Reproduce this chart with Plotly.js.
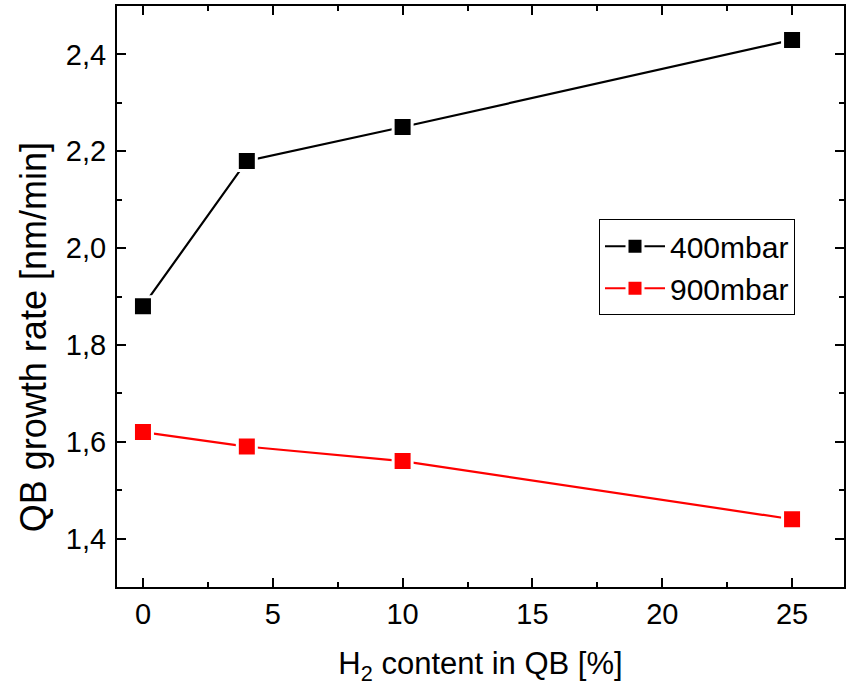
<!DOCTYPE html>
<html>
<head>
<meta charset="utf-8">
<script src="https://cdn.plot.ly/plotly-3.0.1.min.js"></script>
<style>
html,body{margin:0;padding:0;background:#fff;}
#chart{width:848px;height:692px;}
</style>
</head>
<body>
<div id="chart"></div>
<script>
// Data
const h2Content = [0, 4, 10, 25];
const rate400mbar = [1.88, 2.18, 2.25, 2.43];
const rate900mbar = [1.62, 1.59, 1.56, 1.44];
const seriesNames = ['400mbar', '900mbar'];
const xTitle = 'H<sub>2</sub> content in QB [%]';
const yTitle = 'QB growth rate [nm/min]';

const FONT = 'Arial, "Liberation Sans", sans-serif';

function series(y, name, color) {
  return {
    x: h2Content, y: y, name: name, type: 'scatter', mode: 'lines+markers',
    line: {color: color, width: 2.2},
    marker: {symbol: 'square', size: 19, color: color, line: {color: '#ffffff', width: 3}}
  };
}

const traces = [
  series(rate400mbar, seriesNames[0], '#000000'),
  series(rate900mbar, seriesNames[1], '#ff0000')
];

const axisCommon = {
  showline: true, linecolor: '#000', linewidth: 2, mirror: 'ticks',
  ticks: 'inside', ticklen: 9, tickwidth: 2, tickcolor: '#000',
  showgrid: false, zeroline: false,
  tickfont: {family: FONT, size: 29, color: '#000'}
};

const layout = {
  width: 848, height: 692,
  margin: {l: 117, r: 4, t: 6, b: 105},
  paper_bgcolor: '#fff', plot_bgcolor: '#fff',
  separators: ',.',
  showlegend: true,
  font: {family: FONT, color: '#000'},
  xaxis: Object.assign({}, axisCommon, {
    range: [-1, 27], dtick: 5, tick0: 0,
    minor: {ticks: 'inside', ticklen: 5, tickwidth: 2, tickcolor: '#000', dtick: 2.5, tick0: 0},
    title: {text: xTitle, font: {family: FONT, size: 31, color: '#000'}, standoff: 24}
  }),
  yaxis: Object.assign({}, axisCommon, {
    range: [1.3, 2.5], dtick: 0.2, tick0: 1.4, tickformat: '.1f',
    ticklabelstandoff: 3,
    minor: {ticks: 'inside', ticklen: 5, tickwidth: 2, tickcolor: '#000', dtick: 0.1, tick0: 1.3}
  }),
  annotations: [{
    text: yTitle, textangle: -90, showarrow: false,
    xref: 'paper', yref: 'paper', x: -0.1155, y: 0.43,
    xanchor: 'center', yanchor: 'middle',
    font: {family: FONT, size: 36, color: '#000'}
  }],
  legend: {
    x: 0.663, y: 0.633, xanchor: 'left', yanchor: 'top',
    bordercolor: '#000', borderwidth: 1, bgcolor: '#fff',
    font: {family: FONT, size: 30, color: '#000'},
    itemwidth: 60,
    entrywidth: 215,
    tracegroupgap: 0
  }
};

Plotly.newPlot('chart', traces, layout, {displayModeBar: false, staticPlot: true});
</script>
</body>
</html>
